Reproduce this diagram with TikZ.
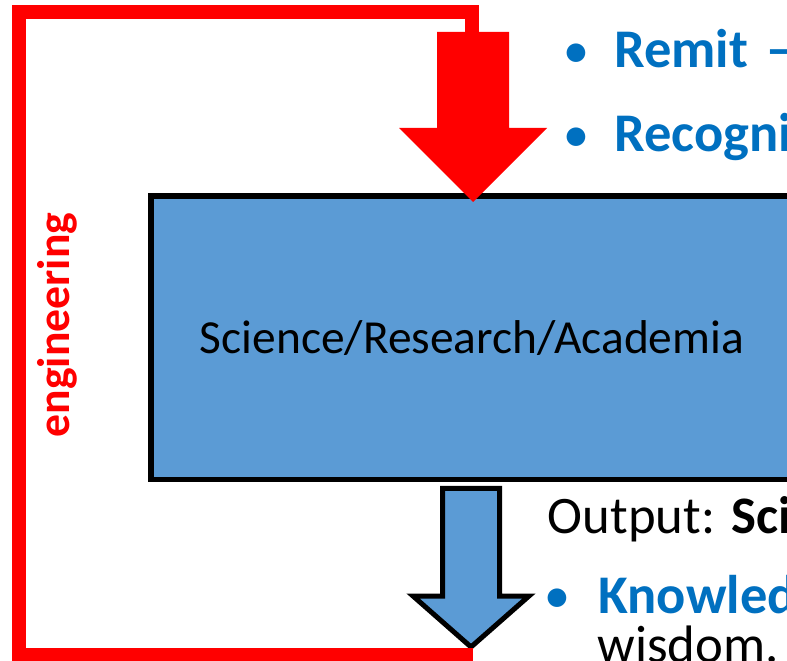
\documentclass[tikz,border=0pt]{standalone}
\usepackage{fontspec}
\setmainfont{Carlito}
\usetikzlibrary{positioning}
\definecolor{boxblue}{HTML}{5B9BD5}
\definecolor{textblue}{HTML}{0070C0}
\definecolor{loopred}{HTML}{FF0000}
\newcommand{\bulletmark}[1]{\makebox[#1][l]{\raisebox{0.05cm}{\fontsize{25}{30}\selectfont\textbullet}}}

\begin{document}
\begin{tikzpicture}[x=0.02cm,y=-0.02cm]
\tikzset{
  mainbox/.style={draw,fill=boxblue,line width=0.11cm,minimum width=12.85cm,minimum height=5.67cm,inner sep=0pt,font=\fontsize{27}{32}\selectfont},
  plaintext/.style={anchor=base west,inner sep=0pt,font=\fontsize{30}{36}\selectfont},
  bullettext/.style={anchor=base west,inner sep=0pt,text=textblue,font=\fontsize{31}{37}\selectfont\bfseries},
  looptext/.style={rotate=90,inner sep=0pt,text=loopred,font=\fontsize{26}{31}\selectfont\bfseries},
  feedback/.style={draw=loopred,line width=0.28cm,line join=miter},
  outarrow/.style={draw,fill=boxblue,line width=0.1cm,line join=miter}
}
\useasboundingbox (0,0) rectangle (787,661);
\clip (0,0) rectangle (787,661);
\fill[white] (0,0) rectangle (787,661);
\node[mainbox] (n_box) at (472,337.75) {Science/Research/Academia};
\coordinate (n_intop) at (473,32);
\coordinate (n_intip) at (473,202);
\coordinate (n_outtop) at (471,488.5);
\coordinate (n_outtip) at (471,647);
\fill[loopred] (n_intop) ++(-36,0) -- ++(72,0) -- ++(0,96) -- ++(38,0) -- (n_intip) -- ++(-74,-74) -- ++(38,0) -- cycle;
\draw[outarrow] (n_outtop) ++(-28.5,0) -- ++(57,0) -- ++(0,107.5) -- ++(29.5,0) -- (n_outtip) -- ++(-58,-51) -- ++(29.5,0) -- cycle;
\coordinate (n_loopa) at (473,655);
\coordinate (n_loopb) at (472,40);
\draw[feedback] (n_loopa) -| (19,12.5) -| (n_loopb);
\node[looptext] (n_eng) at (57,325) {engineering};
\node[bullettext] (n_remit) at (565,68) {\bulletmark{0.98cm}Remit\hspace{0.36cm}–};
\node[bullettext] (n_recog) at (565,152) {\bulletmark{0.98cm}Recognition};
\node[plaintext] (n_output) at (547.5,533) {Output: \textbf{Science}};
\node[bullettext] (n_knowl) at (546,613) {\bulletmark{1.04cm}Knowledge};
\node[plaintext] (n_wisdom) at (597,662) {wisdom.};
\end{tikzpicture}
\end{document}
